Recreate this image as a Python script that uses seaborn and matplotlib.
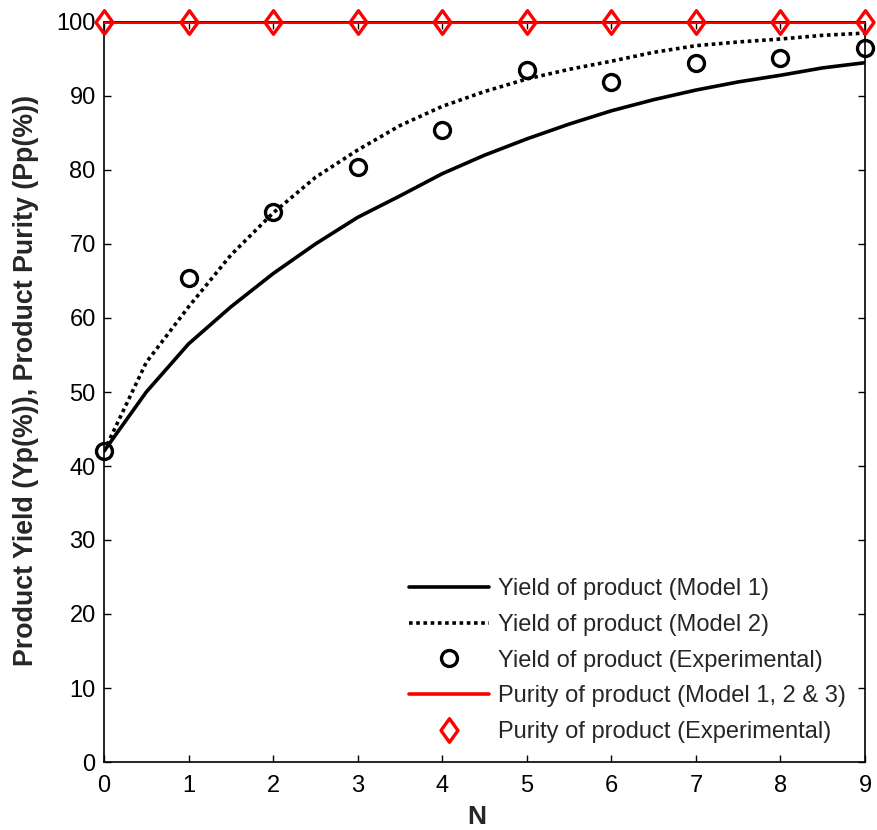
import numpy as np
import pandas as pd
import matplotlib
matplotlib.use("Agg")
import matplotlib.pyplot as plt
import seaborn as sns
from matplotlib.path import Path
from matplotlib.lines import Line2D

# ---- data ----
n_model = [0, 0.5, 1, 1.5, 2, 2.5, 3, 3.5, 4, 4.5, 5, 5.5, 6, 6.5, 7, 7.5, 8, 8.5, 9]
yield_model1 = [42, 50, 56.5, 61.5, 66, 70, 73.6, 76.5, 79.5, 82, 84.2, 86.2, 88, 89.5,
                90.8, 91.9, 92.8, 93.8, 94.5]
yield_model2 = [42, 54, 61.5, 68.5, 74.2, 79, 82.7, 86, 88.6, 90.6, 92.3, 93.6, 94.7,
                95.9, 96.8, 97.3, 97.7, 98.2, 98.5]
n_exp = [0, 1, 2, 3, 4, 5, 6, 7, 8, 9]
yield_exp = [42, 65.4, 74.3, 80.4, 85.4, 93.5, 91.9, 94.5, 95.1, 96.5]
purity_model = [100, 100, 100, 100, 100, 100, 100, 100, 100, 100]
purity_exp = [100, 100, 100, 100, 100, 100, 100, 100, 100, 100]

labels = ["Yield of product (Model 1)",
          "Yield of product (Model 2)",
          "Yield of product (Experimental)",
          "Purity of product (Model 1, 2 & 3)",
          "Purity of product (Experimental)"]

sns.set_style("ticks")
plt.rcParams['font.family'] = ['Liberation Sans', 'DejaVu Sans']

fig = plt.figure(figsize=(8.77, 8.30), dpi=100)
ax = fig.add_axes([104/877, (830-762)/830, 761/877, 740/830])

diamond = Path([(0, 1), (0.72, 0), (0, -1), (-0.72, 0), (0, 1)],
               [Path.MOVETO, Path.LINETO, Path.LINETO, Path.LINETO, Path.CLOSEPOLY])

df1 = pd.DataFrame({"N": n_model, "Y1": yield_model1, "Y2": yield_model2})
dfe = pd.DataFrame({"N": n_exp, "Ye": yield_exp, "Pm": purity_model, "Pe": purity_exp})

sns.lineplot(data=df1, x="N", y="Y1", ax=ax, color="black", lw=2.6, legend=False)
sns.lineplot(data=df1, x="N", y="Y2", ax=ax, color="black", lw=2.6, legend=False)
ax.lines[-1].set_linestyle((0, (1.0, 1.0)))
sns.lineplot(data=dfe, x="N", y="Pm", ax=ax, color="red", lw=2.2, legend=False, zorder=3)
ax.plot(dfe["N"], dfe["Ye"], ls="none", marker="o", ms=11.5, mfc="none", mec="black",
        mew=2.4, clip_on=False, zorder=4)
ax.plot(dfe["N"], dfe["Pe"], ls="none", marker=diamond, ms=17, mfc="none", mec="red",
        mew=2.4, clip_on=False, zorder=5)

ax.set_xlim(0, 9)
ax.set_ylim(0, 100)
ax.set_xticks(range(0, 10))
ax.set_yticks(range(0, 101, 10))
ax.tick_params(axis="both", direction="in", length=5, width=1, labelsize=17,
               top=True, right=True, colors="black")
ax.tick_params(axis="x", pad=9)
ax.tick_params(axis="y", pad=6)
for s in ax.spines.values():
    s.set_linewidth(1.2)
    s.set_color("black")

ax.set_xlabel("N", fontsize=19, fontweight="bold")
ax.xaxis.set_label_coords(0.49, -0.058)
ax.set_ylabel("Product Yield (Yp(%)), Product Purity (Pp(%))", fontsize=19.3,
              fontweight="bold")
ax.yaxis.set_label_coords(-0.085, 0.516)

handles = [
    Line2D([], [], color="black", lw=2.6),
    Line2D([], [], color="black", lw=2.6, ls=(0, (1.0, 1.0))),
    Line2D([], [], ls="none", marker="o", ms=11.5, mfc="none", mec="black", mew=2.4),
    Line2D([], [], color="red", lw=2.6),
    Line2D([], [], ls="none", marker=diamond, ms=17, mfc="none", mec="red", mew=2.4),
]
ax.legend(handles, labels, loc="lower right", bbox_to_anchor=(1.0, 0.0),
          frameon=False, fontsize=17, handlelength=3.4, handletextpad=0.4,
          labelspacing=0.58, borderaxespad=0.4)

fig.savefig("out.png", dpi=100)
